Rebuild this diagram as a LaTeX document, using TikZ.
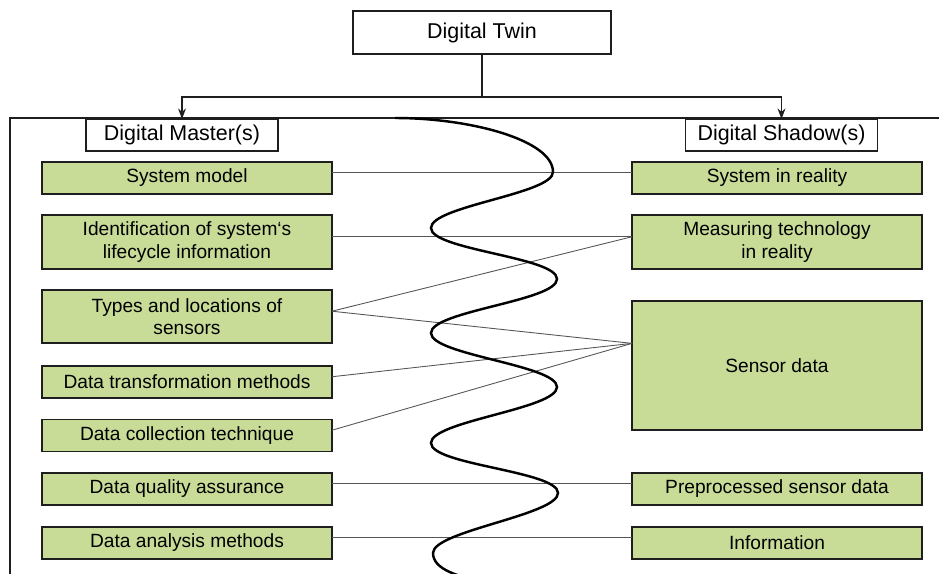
\documentclass[tikz,border=0pt]{standalone}
\usepackage{fontspec}
\setmainfont{Liberation Sans}
\usepackage{tikz}
\usetikzlibrary{arrows.meta}

\definecolor{boxgreen}{RGB}{200,220,152}
\definecolor{linkgray}{RGB}{85,85,85}
\definecolor{edgegray}{RGB}{30,30,30}

\begin{document}
\begin{tikzpicture}[x=0.02cm, y=-0.02cm,
    box/.style={draw=edgegray, line width=0.9pt, inner sep=0pt, outer sep=0pt,
        align=center, font=\fontsize{10.9}{12.6}\selectfont},
    part/.style={box, fill=boxgreen, minimum width=5.8cm, minimum height=0.64cm},
    head/.style={box, fill=white, minimum width=3.84cm, minimum height=0.64cm,
        font=\fontsize{12.2}{14}\selectfont},
    link/.style={draw=linkgray, line width=0.5pt, transform canvas={yshift=3pt}},
    arr/.style={draw=edgegray, line width=0.8pt, -{Stealth[length=6pt, width=4.5pt]}}]
    \useasboundingbox (0, 0) rectangle (939, 574);

    % frame of the twin
    \draw[draw=edgegray, line width=0.75pt] (950, 118) -- (10, 118) -- (10, 590);

    % top of the tree
    \node[head, minimum width=5.16cm, minimum height=0.86cm] (twin) at (482, 32.5) {Digital Twin};
    \node[head] (master) at (182, 135) {Digital Master(s)};
    \node[head] (shadow) at (781.5, 135) {Digital Shadow(s)};
    \coordinate (split) at (482, 97);
    \draw[draw=edgegray, line width=0.8pt] (twin.south) -- (split);
    \draw[arr] (split) -| (master.north);
    \draw[arr] (split) -| (shadow.north);

    % digital master side
    \node[part] (sysmodel) at (187, 178) {System model};
    \node[part, minimum height=1.08cm] (lifecycle) at (187, 242) {Identification of system‘s\\lifecycle information};
    \node[part, minimum height=1.06cm] (sensortypes) at (187, 316.5) {Types and locations of\\sensors};
    \node[part] (transform) at (187, 382) {Data transformation methods};
    \node[part] (collection) at (187, 435.5) {Data collection technique};
    \node[part] (quality) at (187, 489) {Data quality assurance};
    \node[part] (analysis) at (187, 543) {Data analysis methods};

    % digital shadow side
    \node[part] (sysreal) at (777, 178) {System in reality};
    \node[part, minimum height=1.08cm] (measuring) at (777, 242) {Measuring technology\\in reality};
    \node[part, minimum height=2.58cm] (sensordata) at (777, 365.5) {Sensor data};
    \node[part] (preproc) at (777, 489) {Preprocessed sensor data};
    \node[part] (info) at (777, 543) {Information};

    % links between both sides
    \draw[link] (sysmodel.east) -- (sysreal.west);
    \draw[link] (lifecycle.east) -- (measuring.west);
    \draw[link] (sensortypes.east) -- (measuring.west);
    \draw[link] (sensortypes.east) -- ([yshift=9.6pt]sensordata.west);
    \draw[link] (transform.east) -- ([yshift=9.6pt]sensordata.west);
    \draw[link] (collection.east) -- ([yshift=9.6pt]sensordata.west);
    \draw[link] (quality.east) -- (preproc.west);
    \draw[link] (analysis.east) -- (info.west);

    % the wave
    \draw[line width=1.4pt] (395, 118) .. controls (470, 118) and (553, 140) .. (553, 172)
        .. controls +(0, 22) and +(0, -22) .. (431, 228)
        .. controls +(0, 22) and +(0, -22) .. (557, 279)
        .. controls +(0, 22) and +(0, -22) .. (431, 333)
        .. controls +(0, 22) and +(0, -22) .. (557, 387)
        .. controls +(0, 22) and +(0, -22) .. (431, 443)
        .. controls +(0, 22) and +(0, -22) .. (558, 493)
        .. controls +(0, 22) and +(0, -22) .. (433, 553)
        .. controls (433, 570) and (460, 577) .. (485, 582);
\end{tikzpicture}
\end{document}
